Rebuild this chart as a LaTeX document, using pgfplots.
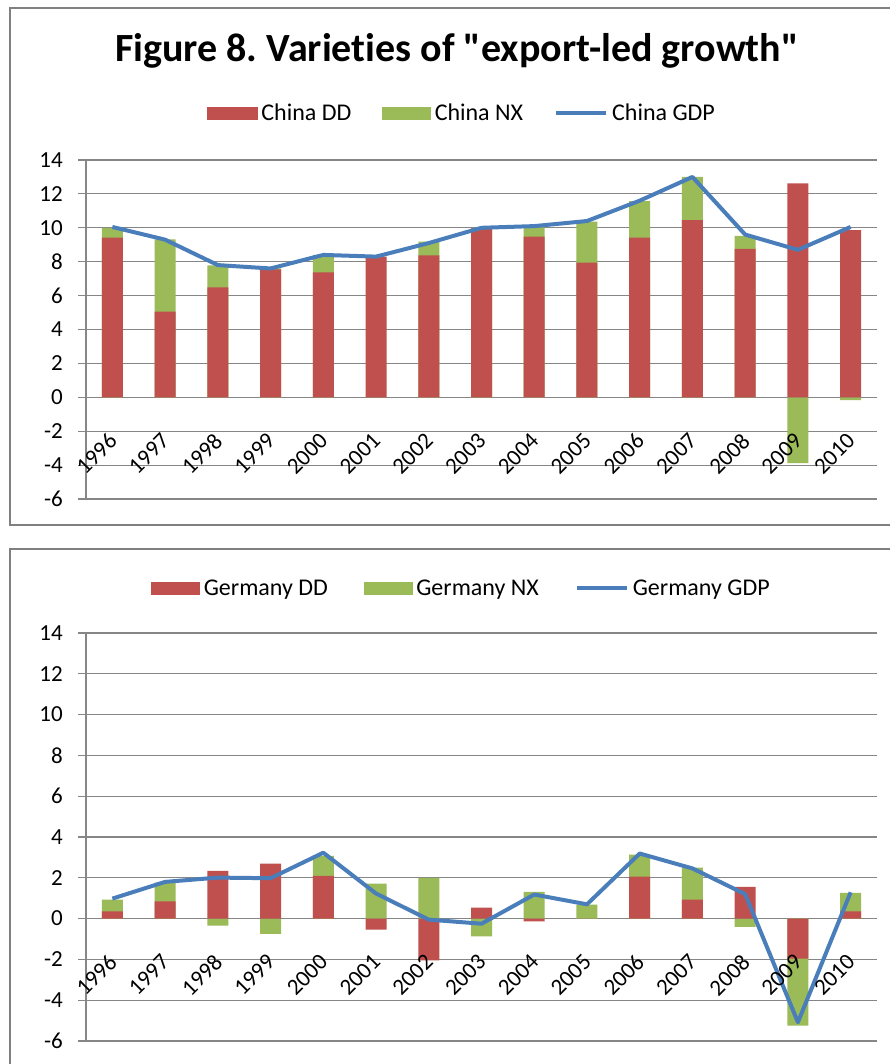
\documentclass[border=0pt]{standalone}
\usepackage{pgfplots}
\pgfplotsset{compat=1.18}
\usepackage{pgfplotstable}
\usepackage{fontspec}
\setmainfont{Carlito}[Ligatures={NoCommon,TeXOff}]
\definecolor{ddred}{HTML}{C0504D}
\definecolor{nxgreen}{HTML}{9BBB59}
\definecolor{gdpblue}{HTML}{4A7EBB}
\definecolor{gridgray}{HTML}{868686}
\definecolor{framegray}{HTML}{808080}

\pgfplotstableread{
x dd nx gdp
0 9.42 0.58 10.05
1 5.05 4.27 9.30
2 6.49 1.30 7.80
3 7.55 0.05 7.60
4 7.37 1.03 8.40
5 8.30 0.00 8.30
6 8.38 0.80 9.10
7 9.97 0.03 10.00
8 9.48 0.55 10.10
9 7.94 2.42 10.40
10 9.42 2.16 11.60
11 10.46 2.54 13.00
12 8.75 0.77 9.60
13 12.62 -3.89 8.70
14 9.87 -0.16 10.05
}\china

\pgfplotstableread{
x dd nx gdp
0 0.36 0.57 0.98
1 0.85 0.92 1.80
2 2.34 -0.34 2.01
3 2.69 -0.75 1.98
4 2.10 0.98 3.23
5 -0.54 1.72 1.23
6 -2.05 2.00 -0.05
7 0.54 -0.87 -0.25
8 -0.13 1.31 1.18
9 0.00 0.69 0.70
10 2.06 1.08 3.19
11 0.93 1.57 2.46
12 1.56 -0.41 1.20
13 -1.96 -3.28 -5.08
14 0.36 0.90 1.29
}\germany

\pgfplotsset{
  panel/.style={
    scale only axis, width=791pt, anchor=south west,
    xmin=-0.5, xmax=14.5, ymin=-6, ymax=14,
    axis x line*=middle, axis y line*=left,
    hide obscured x ticks=false, hide obscured y ticks=false,
    axis line style={gridgray, line width=1.2pt},
    ytick={-6,-4,...,14},
    yticklabels={-6,-4,-2,0,2,4,6,8,10,12,14},
    ytick align=outside, major tick length=8pt,
    ytick style={gridgray, line width=1.2pt},
    yticklabel style={font=\fontsize{23}{26}\selectfont, inner sep=0pt, xshift=-15pt, anchor=east},
    xtick=\empty,
    minor xtick={-0.5,0.5,...,14.5},
    xtick align=center, minor tick length=7pt,
    minor x tick style={gridgray, line width=1.2pt, yshift=-3.5pt},
    ymajorgrids, grid style={gridgray, line width=1.2pt},
    legend columns=3,
    legend style={draw=none, fill=none, font=\fontsize{24}{28}\selectfont,
      anchor=center, inner sep=0pt,
      /tikz/every odd column/.append style={column sep=4pt},
      nodes={inner sep=0pt}},
  },
  labelpanel/.style={
    scale only axis, width=791pt, anchor=south west,
    xmin=-0.5, xmax=14.5, ymin=-6, ymax=14,
    axis x line*=middle, axis y line*=left,
    hide obscured x ticks=false,
    axis line style={draw=none},
    ytick=\empty,
    xtick={0,...,14},
    xticklabels={1996,1997,1998,1999,2000,2001,2002,2003,2004,2005,2006,2007,2008,2009,2010},
    every major x tick/.append style={draw=none},
    xtick align=center,
    xticklabel shift=0pt,
    xticklabel style={font=\fontsize{23}{26}\selectfont, inner sep=0pt, xshift=-5pt, yshift=-32pt, rotate=45, anchor=north east},
  },
  greenpos/.style={ybar, bar width=21pt, bar shift=0pt, fill=nxgreen, draw=none, forget plot},
  redbar/.style={ybar, bar width=21pt, bar shift=0pt, fill=ddred, draw=none, forget plot},
  gdpline/.style={gdpblue, line width=4pt, no markers, forget plot, line join=round},
}

\begin{document}
\frenchspacing
\begin{tikzpicture}
\useasboundingbox (0pt,0pt) rectangle (890pt,-1064pt);
\fill[white] (0pt,0pt) rectangle (890pt,-1064pt);
\draw[framegray, line width=1.5pt] (10pt,-8pt) rectangle (905pt,-525pt);
\draw[framegray, line width=1.5pt] (10pt,-549pt) rectangle (905pt,-1090pt);
\node[font=\bfseries\fontsize{40}{46}\selectfont] at (457pt,-51pt) {Figure 8. Varieties of "export-led growth"};

\begin{axis}[panel, at={(86pt,-499pt)}, height=339pt,
  legend style={at={(0.474,1.1386)}, /tikz/every even column/.append style={column sep=31pt}}]
  \addplot[greenpos] table[x=x, y expr={(\thisrow{nx}>0)*(max(\thisrow{dd},0)+\thisrow{nx})}] {\china};
  \addplot[greenpos] table[x=x, y expr={(\thisrow{nx}<0)*(min(\thisrow{dd},0)+\thisrow{nx})}] {\china};
  \addplot[redbar] table[x=x, y=dd] {\china};
  \addplot[gdpline] table[x=x, y=gdp] {\china};
  \addlegendimage{legend image code/.code={\fill[ddred] (0pt,-6pt) rectangle (50pt,6pt);}}
  \addlegendentry{China DD}
  \addlegendimage{legend image code/.code={\fill[nxgreen] (0pt,-6pt) rectangle (48pt,6pt);}}
  \addlegendentry{China NX}
  \addlegendimage{legend image code/.code={\draw[gdpblue, line width=4pt] (0pt,0pt) -- (50pt,0pt);}}
  \addlegendentry{China GDP}
\end{axis}
\begin{axis}[labelpanel, at={(86pt,-499pt)}, height=339pt]
  \addplot[draw=none, forget plot] coordinates {(0,0)};
\end{axis}

\begin{axis}[panel, at={(86pt,-1041pt)}, height=408pt,
  legend style={at={(0.4735,1.110)}, /tikz/every even column/.append style={column sep=36pt}}]
  \addplot[greenpos] table[x=x, y expr={(\thisrow{nx}>0)*(max(\thisrow{dd},0)+\thisrow{nx})}] {\germany};
  \addplot[greenpos] table[x=x, y expr={(\thisrow{nx}<0)*(min(\thisrow{dd},0)+\thisrow{nx})}] {\germany};
  \addplot[redbar] table[x=x, y=dd] {\germany};
  \addplot[gdpline] table[x=x, y=gdp] {\germany};
  \addlegendimage{legend image code/.code={\fill[ddred] (0pt,-6pt) rectangle (48pt,6pt);}}
  \addlegendentry{Germany DD}
  \addlegendimage{legend image code/.code={\fill[nxgreen] (0pt,-6pt) rectangle (48pt,6pt);}}
  \addlegendentry{Germany NX}
  \addlegendimage{legend image code/.code={\draw[gdpblue, line width=4pt] (0pt,0pt) -- (50pt,0pt);}}
  \addlegendentry{Germany GDP}
\end{axis}
\begin{axis}[labelpanel, at={(86pt,-1041pt)}, height=408pt]
  \addplot[draw=none, forget plot] coordinates {(0,0)};
\end{axis}
\end{tikzpicture}
\end{document}
